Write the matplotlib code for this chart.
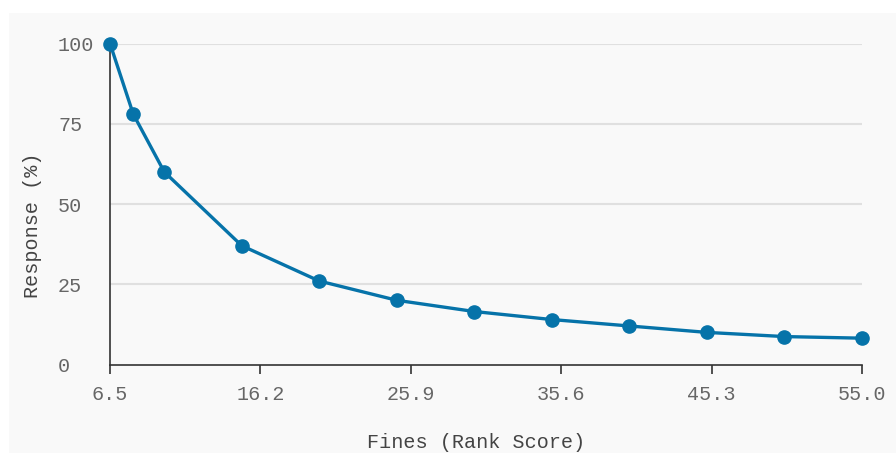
import matplotlib
matplotlib.use("Agg")
import matplotlib.pyplot as plt
from matplotlib.patches import Rectangle

# Data
fines = [6.5, 8, 10, 15, 20, 25, 30, 35, 40, 45, 50, 55]
response = [100, 78, 60, 37, 26, 20, 16.5, 14, 12, 10, 8.7, 8.2]
x_ticks = [6.5, 16.2, 25.9, 35.6, 45.3, 55.0]
x_tick_labels = ["6.5", "16.2", "25.9", "35.6", "45.3", "55.0"]
y_ticks = [0, 25, 50, 75, 100]
x_label = "Fines (Rank Score)"
y_label = "Response (%)"

W, H = 896, 453
fig = plt.figure(figsize=(W / 100, H / 100), dpi=100)
fig.patch.set_facecolor("white")
fig.patches.append(Rectangle((9 / W, 0), 1 - 9 / W, (H - 13) / H,
                             transform=fig.transFigure, facecolor="#f9f9f9",
                             edgecolor="none", zorder=-10))

left, right = 110 / W, 862 / W
bottom, top = (H - 364.5) / H, (H - 43.5) / H
ax = fig.add_axes([left, bottom, right - left, top - bottom])
ax.set_facecolor("none")
ax.set_zorder(5)

mono = "Liberation Mono"
ax.set_xlim(6.5, 55.0)
ax.set_ylim(0, 100)

for yv in y_ticks[1:]:
    ax.axhline(yv, color="#e0e0e0", lw=1.5, zorder=1)

ax.plot(fines, response, color="#0673a9", lw=2.4, marker="o", ms=9.5,
        clip_on=False, zorder=3)

for s in ["top", "right"]:
    ax.spines[s].set_visible(False)
for s in ["left", "bottom"]:
    ax.spines[s].set_color("#333333")
    ax.spines[s].set_linewidth(1.2)

ax.set_xticks(x_ticks)
ax.set_xticklabels(x_tick_labels, fontfamily=mono, fontsize=14.5, color="#666666")
ax.set_yticks(y_ticks)
ax.set_yticklabels([str(v) for v in y_ticks], fontfamily=mono, fontsize=14.5,
                   color="#666666")
ax.tick_params(axis="x", length=6.5, width=1.2, color="#333333", pad=8)
ax.tick_params(axis="y", length=0, pad=37.4)
for lab in ax.get_yticklabels():
    lab.set_horizontalalignment("left")

fig.text(476 / W, (H - 442) / H, x_label, fontfamily=mono, fontsize=14.5,
         color="#444444", ha="center", va="center")
fig.text(33 / W, (H - 225) / H, y_label, fontfamily=mono, fontsize=14.5,
         color="#444444", ha="center", va="center", rotation=90)

fig.savefig("out.png", dpi=100)
